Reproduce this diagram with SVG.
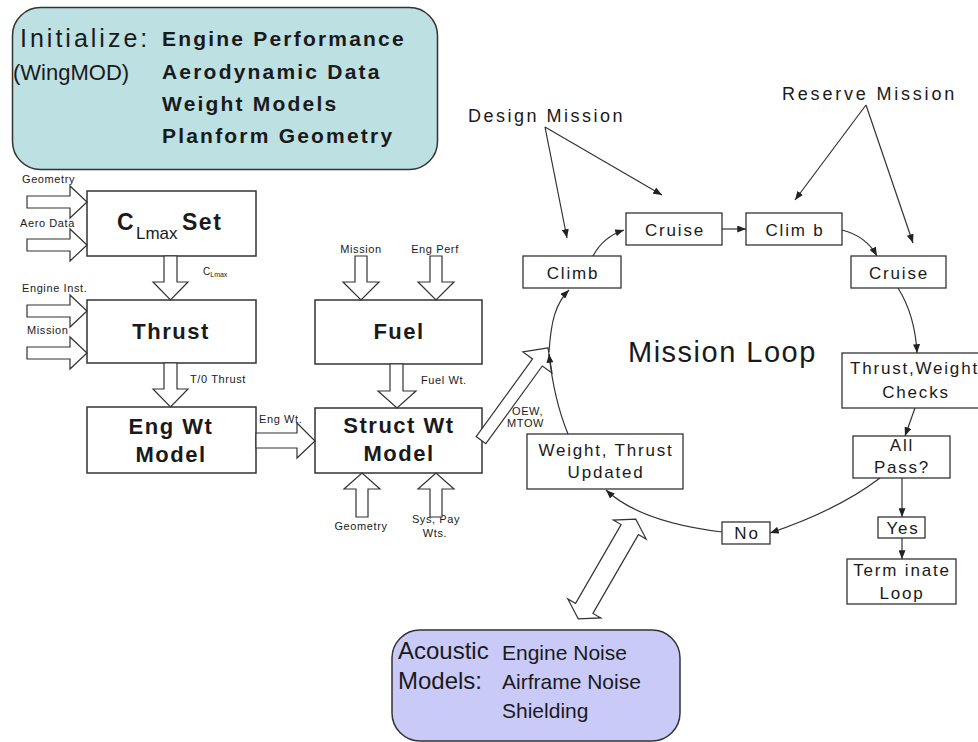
<svg xmlns="http://www.w3.org/2000/svg" width="978" height="742" viewBox="0 0 978 742">
<style>
text{font-family:"Liberation Sans",Arial,sans-serif;fill:#1a1a1a}
.box{fill:#fff;stroke:#333;stroke-width:1.5}
.lbox{fill:#fff;stroke:#333;stroke-width:1.3}
.blk{fill:#fff;stroke:#333;stroke-width:1.2;stroke-linejoin:miter}
.ln{fill:none;stroke:#333;stroke-width:1.2}
.big{font-size:22px;font-weight:bold;letter-spacing:1.5px}
.sm{font-size:11px;letter-spacing:0.6px}
.lp{font-size:17px;letter-spacing:1.8px}
.ini{font-size:21px;font-weight:bold;letter-spacing:2.2px}
.ac{font-size:21px}
</style>
<defs>
<marker id="ah" viewBox="0 0 10 8" refX="10" refY="4" markerWidth="9" markerHeight="7" orient="auto" markerUnits="userSpaceOnUse">
<path d="M0,0 L10,4 L0,8 Z" fill="#222"/>
</marker>
</defs>
<rect width="978" height="742" fill="#fff"/>

<g id="initialize">
<rect x="12.5" y="7.5" width="425" height="162" rx="28" fill="#bde0e3" stroke="#333" stroke-width="1.5"/>
<text x="20" y="47" font-size="25" letter-spacing="3">Initialize:</text>
<text x="13" y="80" font-size="22">(WingMOD)</text>
<text class="ini" x="162" y="46">Engine Performance</text>
<text class="ini" x="162" y="79">Aerodynamic Data</text>
<text class="ini" x="162" y="111">Weight Models</text>
<text class="ini" x="162" y="143">Planform Geometry</text>
</g>

<g id="clmax">
<rect class="box" x="87" y="191" width="169" height="65"/>
<text x="117" y="230" font-size="23" font-weight="bold">C</text>
<text x="136" y="239" font-size="17">Lmax</text>
<text x="182" y="230" font-size="23" font-weight="bold" letter-spacing="1.5">Set</text>
</g>
<g id="thrust">
<rect class="box" x="87" y="300" width="169" height="63"/>
<text class="big" x="171" y="339" text-anchor="middle">Thrust</text>
</g>
<g id="engwt">
<rect class="box" x="87" y="407" width="169" height="66"/>
<text class="big" x="171" y="434" text-anchor="middle">Eng Wt</text>
<text class="big" x="171" y="462" text-anchor="middle">Model</text>
</g>
<g id="fuel">
<rect class="box" x="315" y="300" width="167" height="64"/>
<text class="big" x="399" y="339" text-anchor="middle">Fuel</text>
</g>
<g id="structwt">
<rect class="box" x="315" y="408" width="167" height="65"/>
<text class="big" x="399" y="433" text-anchor="middle">Struct Wt</text>
<text class="big" x="399" y="461" text-anchor="middle">Model</text>
</g>

<g id="climb1">
<rect class="lbox" x="523" y="256" width="98" height="32"/>
<text class="lp" x="573" y="279" text-anchor="middle">Climb</text>
</g>
<g id="cruise1">
<rect class="lbox" x="626" y="213" width="96" height="32"/>
<text class="lp" x="675" y="236" text-anchor="middle">Cruise</text>
</g>
<g id="climb2">
<rect class="lbox" x="746" y="213" width="96" height="32"/>
<text class="lp" x="795" y="236" text-anchor="middle">Clim b</text>
</g>
<g id="cruise2">
<rect class="lbox" x="851" y="256" width="95" height="32"/>
<text class="lp" x="899" y="279" text-anchor="middle">Cruise</text>
</g>
<g id="checks">
<rect class="lbox" x="842" y="353" width="150" height="55"/>
<text class="lp" x="850" y="374">Thrust,Weight</text>
<text class="lp" x="916" y="398" text-anchor="middle">Checks</text>
</g>
<g id="allpass">
<rect class="lbox" x="853" y="436" width="97" height="42"/>
<text class="lp" x="902" y="451" text-anchor="middle">All</text>
<text class="lp" x="902" y="473" text-anchor="middle">Pass?</text>
</g>
<g id="yes">
<rect class="lbox" x="878" y="517" width="47" height="21"/>
<text class="lp" x="903" y="534" text-anchor="middle">Yes</text>
</g>
<g id="terminate">
<rect class="lbox" x="847" y="559" width="109" height="45"/>
<text class="lp" x="902" y="576" text-anchor="middle">Term inate</text>
<text class="lp" x="902" y="599" text-anchor="middle">Loop</text>
</g>
<g id="no">
<rect class="lbox" x="722" y="522" width="48" height="22"/>
<text class="lp" x="747" y="539" text-anchor="middle">No</text>
</g>
<g id="updated">
<rect class="lbox" x="527" y="434" width="156" height="55"/>
<text class="lp" x="606" y="456" text-anchor="middle">Weight, Thrust</text>
<text class="lp" x="606" y="478" text-anchor="middle">Updated</text>
</g>

<g id="acoustic">
<rect x="392" y="630" width="288" height="111" rx="28" fill="#cacaf8" stroke="#333" stroke-width="1.5"/>
<text x="398" y="659" font-size="24">Acoustic</text>
<text x="398" y="689" font-size="24">Models:</text>
<text class="ac" x="502" y="660">Engine Noise</text>
<text class="ac" x="502" y="689">Airframe Noise</text>
<text class="ac" x="502" y="718">Shielding</text>
</g>

<g id="labels">
<text x="628" y="362" font-size="29" letter-spacing="1.5">Mission Loop</text>
<text x="468" y="122" font-size="18" letter-spacing="2.5">Design Mission</text>
<text x="782" y="100" font-size="18" letter-spacing="2.8">Reserve Mission</text>
<text class="sm" x="22" y="183">Geometry</text>
<text class="sm" x="20" y="227">Aero Data</text>
<text class="sm" x="22" y="292">Engine Inst.</text>
<text class="sm" x="27" y="334">Mission</text>
<text x="203" y="275" font-size="10">C<tspan font-size="7" dy="2">Lmax</tspan></text>
<text class="sm" x="190" y="383">T/0 Thrust</text>
<text class="sm" x="259" y="423">Eng Wt.</text>
<text class="sm" x="361" y="253" text-anchor="middle">Mission</text>
<text class="sm" x="435" y="253" text-anchor="middle">Eng Perf</text>
<text class="sm" x="421" y="384">Fuel Wt.</text>
<text class="sm" x="361" y="530" text-anchor="middle">Geometry</text>
<text class="sm" x="436" y="523" text-anchor="middle">Sys, Pay</text>
<text class="sm" x="435" y="537" text-anchor="middle">Wts.</text>
<text class="sm" x="512" y="415">OEW,</text>
<text class="sm" x="507" y="427">MTOW</text>
</g>

<g id="connectors">
<polygon class="blk" points="27,196 70,196 70,186 87,202 70,218 70,208 27,208"/>
<polygon class="blk" points="27,239 70,239 70,229 87,245 70,261 70,251 27,251"/>
<polygon class="blk" points="27,305 70,305 70,295 87,311 70,327 70,317 27,317"/>
<polygon class="blk" points="27,347 70,347 70,337 87,353 70,369 70,359 27,359"/>
<polygon class="blk" points="164,256 177,256 177,282 188,282 170.5,300 153,282 164,282"/>
<polygon class="blk" points="164,363 177,363 177,389 188,389 170.5,407 153,389 164,389"/>
<polygon class="blk" points="355,256 367,256 367,282 379,282 361,300 343,282 355,282"/>
<polygon class="blk" points="430,256 442,256 442,282 454,282 436,300 418,282 430,282"/>
<polygon class="blk" points="390,364 403,364 403,391 416,391 397,408 378,391 390,391"/>
<polygon class="blk" points="356,517 368,517 368,489 380,489 362,473 344,489 356,489"/>
<polygon class="blk" points="430,517 442,517 442,489 454,489 436,473 418,489 430,489"/>
<polygon class="blk" points="256,433 297,433 297,423 315,441 297,458 297,448 256,448"/>
<polygon class="blk" transform="translate(514.5 394) rotate(-54)" points="57,0 39,-18 39,-6 -57,-6 -57,6 39,6 39,18"/>
<polygon class="blk" transform="translate(607 569) rotate(-60)" points="57.5,0 45.5,-19 45.5,-10 -45.5,-10 -45.5,-19 -57.5,0 -45.5,19 -45.5,10 45.5,10 45.5,19"/>

<path class="ln" d="M568,434 Q554,400 549,354" marker-end="url(#ah)"/>
<path class="ln" d="M549,352 C551,320 556,303 569,290" marker-end="url(#ah)"/>
<path class="ln" d="M593,256 Q603,237 624,230" marker-end="url(#ah)"/>
<path class="ln" d="M722,229 L746,229" marker-end="url(#ah)"/>
<path class="ln" d="M842,230 Q866,236 877,256" marker-end="url(#ah)"/>
<path class="ln" d="M898,288 Q915,315 917,353" marker-end="url(#ah)"/>
<path class="ln" d="M915,408 L905,436" marker-end="url(#ah)"/>
<path class="ln" d="M902,478 L902,517" marker-end="url(#ah)"/>
<path class="ln" d="M902,538 L902,559" marker-end="url(#ah)"/>
<path class="ln" d="M880,478 Q838,510 770,533" marker-end="url(#ah)"/>
<path class="ln" d="M722,532 Q640,522 606,490" marker-end="url(#ah)"/>
<path class="ln" d="M545,127 L567,238" marker-end="url(#ah)"/>
<path class="ln" d="M545,127 L662,195" marker-end="url(#ah)"/>
<path class="ln" d="M866,105 L795,200" marker-end="url(#ah)"/>
<path class="ln" d="M866,105 L913,243" marker-end="url(#ah)"/>
</g>
</svg>
